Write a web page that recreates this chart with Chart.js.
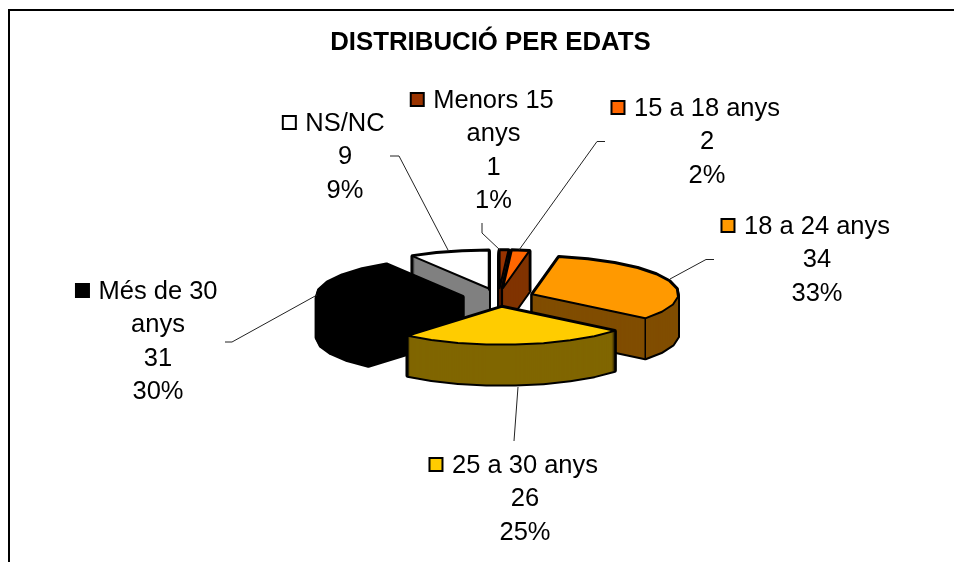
<!DOCTYPE html>
<html>
<head>
<meta charset="utf-8">
<title>Distribució per edats</title>
<script src="https://cdn.jsdelivr.net/npm/chart.js@4/dist/chart.umd.min.js"></script>
<style>
  html, body { margin: 0; background: #fff; overflow: hidden; }
  #frame { position: absolute; left: 8px; top: 9px; right: 0; bottom: 0; border-top: 2px solid #000; border-left: 2px solid #000; }
  #chart { position: absolute; left: 0; top: 0; }
</style>
</head>
<body>
<div id="frame"></div>
<canvas id="chart" width="954" height="562"></canvas>
<script>
'use strict';

var chartTitle = 'DISTRIBUCIÓ PER EDATS';
var categories = ['Menors 15\nanys', '15 a 18 anys', '18 a 24 anys', '25 a 30 anys', 'Més de 30\nanys', 'NS/NC'];
var values = [1, 2, 34, 26, 31, 9];
var topColors = ['#993300', '#ff6600', '#ff9900', '#ffcc00', '#000000', '#ffffff'];
var wallColors = ['#4d1a00', '#803300', '#804d00', '#806600', '#000000', '#808080'];

// Where the label blocks and their leader lines sit (not data)
var labelCenters = [[493.5, 100.5], [707, 108.5], [817, 226.5], [525, 465.5], [158, 291.5], [345, 123.5]];
var leaders = [
  [[482, 223], [482, 233], [500, 250]],
  [[605, 141.5], [597, 141.5], [519, 250]],
  [[714, 259.5], [706, 259.5], [670, 279]],
  [[514, 441], [518, 387]],
  [[225, 342], [232, 342], [317, 295]],
  [[390, 156], [399, 156], [448, 250]]
];

var SQUASH = 0.26;    // tilt of the pie
var DEPTH = 40;       // height of the side walls
var ARC_STEP = 0.2;   // radians, the rim is faceted in the reference
var LABEL_FONT = '25.5px "Liberation Sans", Arial, sans-serif';
var LINE_HEIGHT = 33.5;

// Back to front, so nearer slices cover the walls behind them
var wallOrder = [5, 0, 1, 2, 4, 3];

function slicePoints(el, dy) {
  var p = el.getProps(['x', 'y', 'startAngle', 'endAngle', 'outerRadius'], true);
  var mid = (p.startAngle + p.endAngle) / 2;
  var off = el.options.offset / 4;
  var ox = p.x + Math.cos(mid) * off;
  var oy = p.y + Math.sin(mid) * off * SQUASH + dy;
  var pts = [[ox, oy]];
  var n = Math.max(1, Math.round((p.endAngle - p.startAngle) / ARC_STEP));
  for (var i = 0; i <= n; i++) {
    var a = p.startAngle + (p.endAngle - p.startAngle) * i / n;
    pts.push([ox + Math.cos(a) * p.outerRadius, oy + Math.sin(a) * p.outerRadius * SQUASH]);
  }
  return pts;
}

function tracePoints(ctx, pts) {
  ctx.beginPath();
  pts.forEach(function(pt, i) {
    if (i === 0) ctx.moveTo(pt[0], pt[1]);
    else ctx.lineTo(pt[0], pt[1]);
  });
  ctx.closePath();
}

function drawWall(ctx, el, color) {
  var dy;
  ctx.lineWidth = 4;
  ctx.strokeStyle = '#000';
  ctx.lineJoin = 'round';
  for (dy = DEPTH; dy >= 0; dy--) {
    tracePoints(ctx, slicePoints(el, dy));
    ctx.stroke();
  }
  ctx.fillStyle = color;
  for (dy = DEPTH; dy >= 0; dy--) {
    tracePoints(ctx, slicePoints(el, dy));
    ctx.fill();
  }
  // vertical edge where the rim ends
  var top = slicePoints(el, 0);
  var corner = top[top.length - 1];
  ctx.lineWidth = 1.5;
  ctx.beginPath();
  ctx.moveTo(corner[0], corner[1]);
  ctx.lineTo(corner[0], corner[1] + DEPTH);
  ctx.stroke();
}

function drawTop(ctx, el, color) {
  tracePoints(ctx, slicePoints(el, 0));
  ctx.fillStyle = color;
  ctx.fill();
  ctx.lineWidth = 2;
  ctx.lineJoin = 'round';
  ctx.strokeStyle = '#000';
  ctx.stroke();
}

// Chart.js lays out the arcs, this plugin paints them tilted and exploded
var tiltedPie = {
  id: 'tiltedPie',
  beforeDatasetDraw: function(chart) {
    var ctx = chart.ctx;
    var arcs = chart.getDatasetMeta(0).data;
    ctx.save();
    wallOrder.forEach(function(i) { drawWall(ctx, arcs[i], wallColors[i]); });
    wallOrder.forEach(function(i) { drawTop(ctx, arcs[i], topColors[i]); });
    ctx.restore();
    return false;
  }
};

var pieLabels = {
  id: 'pieLabels',
  afterDraw: function(chart) {
    var ctx = chart.ctx;
    var total = values.reduce(function(a, b) { return a + b; }, 0);
    ctx.save();

    ctx.fillStyle = '#000';
    ctx.textAlign = 'center';
    ctx.textBaseline = 'middle';
    ctx.font = 'bold 25.8px "Liberation Sans", Arial, sans-serif';
    ctx.fillText(chartTitle, 490.5, 43);

    ctx.lineWidth = 1;
    ctx.strokeStyle = '#222';
    leaders.forEach(function(line) {
      ctx.beginPath();
      line.forEach(function(pt, i) {
        if (i === 0) ctx.moveTo(pt[0], pt[1]);
        else ctx.lineTo(pt[0], pt[1]);
      });
      ctx.stroke();
    });

    ctx.font = LABEL_FONT;
    categories.forEach(function(cat, i) {
      var lines = cat.split('\n').concat([String(values[i]), Math.round(values[i] / total * 100) + '%']);
      var cx = labelCenters[i][0];
      var cy = labelCenters[i][1];
      lines.forEach(function(text, j) {
        ctx.fillStyle = '#000';
        ctx.fillText(text, cx, cy + j * LINE_HEIGHT);
      });
      var left = cx - ctx.measureText(lines[0]).width / 2;
      ctx.fillStyle = topColors[i];
      ctx.strokeStyle = '#000';
      ctx.lineWidth = 2;
      ctx.fillRect(left - 22.5, cy - 7.5, 13, 13);
      ctx.strokeRect(left - 22.5, cy - 7.5, 13, 13);
    });
    ctx.restore();
  }
};

new Chart(document.getElementById('chart'), {
  type: 'pie',
  data: {
    labels: categories,
    datasets: [{
      data: values,
      backgroundColor: topColors,
      borderWidth: 0,
      offset: 144,
      radius: 146,
    }],
  },
  options: {
    responsive: false,
    animation: false,
    layout: { padding: { left: 43, top: 33 } },
    plugins: {
      legend: { display: false },
      tooltip: { enabled: false },
    },
  },
  plugins: [tiltedPie, pieLabels],
});
</script>
</body>
</html>
